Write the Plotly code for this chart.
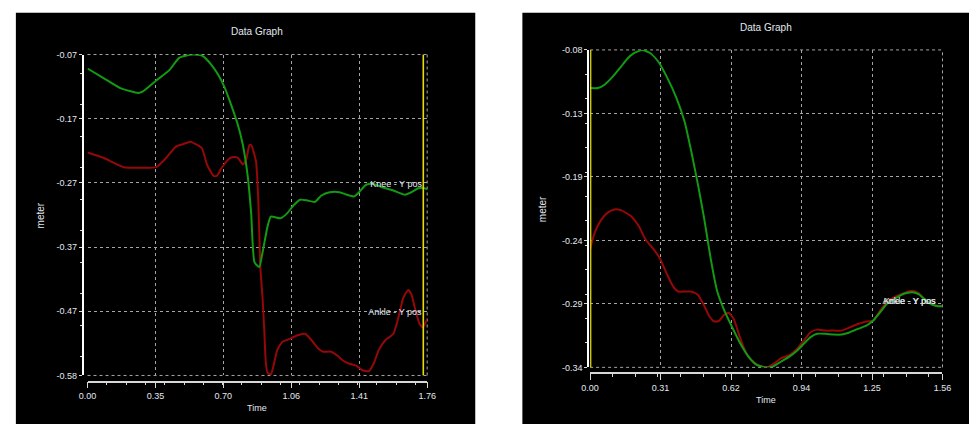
import plotly.graph_objects as go

# ---------------- data: left graph ----------------
left_knee_t = [0.000, 0.085, 0.170, 0.263, 0.288, 0.356, 0.424, 0.475, 0.543, 0.593, 0.644, 0.678, 0.712,
               0.746, 0.780, 0.805, 0.831, 0.848, 0.865, 0.890, 0.907, 0.933, 0.950, 1.000, 1.034, 1.068,
               1.102, 1.136, 1.178, 1.212, 1.255, 1.306, 1.340, 1.382, 1.407, 1.441, 1.475, 1.526, 1.585,
               1.645, 1.679, 1.713, 1.738, 1.760]
left_knee_y = [-0.0922, -0.1078, -0.1233, -0.1310, -0.1284, -0.1114, -0.0948, -0.0752, -0.0700, -0.0716,
               -0.0871, -0.1026, -0.1233, -0.1517, -0.1828, -0.2138, -0.2655, -0.3224, -0.4000, -0.4078,
               -0.3845, -0.3431, -0.3276, -0.3302, -0.3224, -0.3095, -0.3007, -0.3017, -0.3043, -0.2940,
               -0.2888, -0.2888, -0.2924, -0.2955, -0.2888, -0.2774, -0.2748, -0.2810, -0.2862, -0.2929,
               -0.2888, -0.2826, -0.2821, -0.2836]

left_ankle_t = [0.000, 0.085, 0.187, 0.271, 0.356, 0.407, 0.458, 0.492, 0.534, 0.568, 0.593, 0.619, 0.653,
                0.670, 0.695, 0.738, 0.763, 0.780, 0.805, 0.822, 0.839, 0.848, 0.873, 0.885, 0.895, 0.907,
                0.916, 0.924, 0.933, 0.950, 0.967, 0.983, 1.009, 1.051, 1.085, 1.128, 1.161, 1.195, 1.221,
                1.263, 1.297, 1.323, 1.357, 1.391, 1.424, 1.458, 1.484, 1.509, 1.543, 1.585, 1.611, 1.636,
                1.662, 1.679, 1.696, 1.721, 1.738, 1.760]
left_ankle_y = [-0.2257, -0.2345, -0.2490, -0.2500, -0.2490, -0.2345, -0.2164, -0.2128, -0.2086, -0.2138,
                -0.2190, -0.2448, -0.2629, -0.2629, -0.2500, -0.2345, -0.2329, -0.2345, -0.2448, -0.2371,
                -0.2138, -0.2138, -0.2397, -0.3017, -0.4052, -0.4569, -0.5086, -0.5603, -0.5759, -0.5784,
                -0.5603, -0.5397, -0.5267, -0.5216, -0.5164, -0.5138, -0.5241, -0.5371, -0.5422, -0.5422,
                -0.5490, -0.5562, -0.5614, -0.5645, -0.5717, -0.5733, -0.5603, -0.5397, -0.5241, -0.5138,
                -0.4879, -0.4569, -0.4440, -0.4517, -0.4724, -0.4983, -0.5034, -0.4905]

left_cursor_t = 1.74
left_x_range = [0.0, 1.76]
left_y_range = [-0.58, -0.07]
left_x_ticks = ["0.00", "0.35", "0.70", "1.06", "1.41", "1.76"]
left_y_ticks = ["-0.07", "-0.17", "-0.27", "-0.37", "-0.47", "-0.58"]
left_labels = ["Knee - Y pos", "Ankle - Y pos"]
left_label_t = [1.465, 1.455]
left_label_y = [-0.2764, -0.481]

# ---------------- data: right graph ----------------
right_knee_t = [0.000, 0.035, 0.064, 0.100, 0.136, 0.165, 0.194, 0.230, 0.267, 0.303, 0.339, 0.382, 0.419,
                0.448, 0.477, 0.506, 0.534, 0.563, 0.592, 0.629, 0.665, 0.701, 0.737, 0.774, 0.810, 0.846,
                0.882, 0.918, 0.947, 0.976, 1.005, 1.041, 1.078, 1.114, 1.150, 1.186, 1.223, 1.252, 1.288,
                1.317, 1.353, 1.389, 1.425, 1.454, 1.483, 1.512, 1.541, 1.560]
right_knee_y = [-0.1112, -0.1112, -0.1085, -0.1019, -0.0939, -0.0872, -0.0827, -0.0800, -0.0827, -0.0899,
                -0.1019, -0.1192, -0.1392, -0.1632, -0.1899, -0.2192, -0.2512, -0.2779, -0.2925, -0.3072,
                -0.3205, -0.3312, -0.3379, -0.3400, -0.3392, -0.3352, -0.3312, -0.3259, -0.3205, -0.3152,
                -0.3125, -0.3125, -0.3131, -0.3131, -0.3112, -0.3085, -0.3059, -0.3019, -0.2939, -0.2872,
                -0.2832, -0.2797, -0.2784, -0.2800, -0.2845, -0.2885, -0.2899, -0.2899]

right_ankle_t = [0.000, 0.020, 0.049, 0.078, 0.107, 0.136, 0.180, 0.216, 0.245, 0.281, 0.310, 0.339, 0.368,
                 0.390, 0.419, 0.448, 0.477, 0.506, 0.527, 0.549, 0.571, 0.592, 0.614, 0.636, 0.658, 0.679,
                 0.701, 0.730, 0.759, 0.788, 0.817, 0.846, 0.882, 0.918, 0.947, 0.976, 1.005, 1.041, 1.078,
                 1.114, 1.150, 1.186, 1.223, 1.252, 1.288, 1.317, 1.353, 1.389, 1.425, 1.454, 1.483, 1.512,
                 1.541, 1.560]
right_ankle_y = [-0.2432, -0.2299, -0.2192, -0.2133, -0.2107, -0.2112, -0.2160, -0.2245, -0.2352, -0.2432,
                 -0.2512, -0.2632, -0.2739, -0.2779, -0.2779, -0.2779, -0.2805, -0.2899, -0.2979, -0.3024,
                 -0.3019, -0.2971, -0.2952, -0.3005, -0.3125, -0.3232, -0.3312, -0.3365, -0.3392, -0.3397,
                 -0.3365, -0.3325, -0.3299, -0.3245, -0.3179, -0.3112, -0.3091, -0.3099, -0.3099, -0.3099,
                 -0.3072, -0.3045, -0.3024, -0.3019, -0.2925, -0.2859, -0.2819, -0.2792, -0.2773, -0.2792,
                 -0.2845, -0.2880, -0.2899, -0.2899]

right_cursor_t = 0.002
right_x_range = [0.0, 1.56]
right_y_range = [-0.34, -0.08]
right_x_ticks = ["0.00", "0.31", "0.62", "0.94", "1.25", "1.56"]
right_y_ticks = ["-0.08", "-0.13", "-0.19", "-0.24", "-0.29", "-0.34"]
right_labels = ["Knee - Y pos", "Ankle - Y pos"]
right_label_t = [1.300, 1.295]
right_label_y = [-0.2866, -0.2864]

# ---------------- styles ----------------
W, H = 978, 429
GREEN = "#129a12"
RED = "#960808"
YELLOW = "#e6de00"
GRID = "#a5a5a5"
GRID_DASH = "3px,3px"
TXT = "#e2e8f0"
FONT = "Liberation Sans, Arial, sans-serif"


def px_x(p):
    return p / W


def px_y(p):
    return 1 - p / H


def even_ticks(a, b, n):
    return [a + (b - a) * i / (n - 1) for i in range(n)]


fig = go.Figure()

panels = [
    dict(sfx="", knee=(left_knee_t, left_knee_y), ankle=(left_ankle_t, left_ankle_y),
         cursor=left_cursor_t, xr=left_x_range, yr=left_y_range, xt=left_x_ticks, yt=left_y_ticks,
         lab=(left_labels, left_label_t, left_label_y),
         dom_x=(80, 426), dom_y=(50.7, 379.3), xline=385.7, yline=75,
         bg=(7, 475), title=(253, 27), meter=(33, 215), time=(253, 413)),
    dict(sfx="2", knee=(right_knee_t, right_knee_y), ankle=(right_ankle_t, right_ankle_y),
         cursor=right_cursor_t, xr=right_x_range, yr=right_y_range, xt=right_x_ticks, yt=right_y_ticks,
         lab=(right_labels, right_label_t, right_label_y),
         dom_x=(592, 951), dom_y=(46, 371), xline=377, yline=590,
         bg=(523, 978), title=(771, 23), meter=(543, 209), time=(771, 404)),
]

shapes = []
annotations = []
for p in panels:
    xa = "x" + p["sfx"]
    ya = "y" + p["sfx"]
    fig.add_trace(go.Scatter(x=p["ankle"][0], y=p["ankle"][1], mode="lines", xaxis=xa, yaxis=ya,
                             line=dict(color=RED, width=2, shape="spline", smoothing=0.5),
                             showlegend=False, hoverinfo="skip"))
    fig.add_trace(go.Scatter(x=p["knee"][0], y=p["knee"][1], mode="lines", xaxis=xa, yaxis=ya,
                             line=dict(color=GREEN, width=2, shape="spline", smoothing=0.5),
                             showlegend=False, hoverinfo="skip"))
    fig.add_trace(go.Scatter(x=[p["cursor"], p["cursor"]], y=p["yr"], mode="lines", xaxis=xa, yaxis=ya,
                             line=dict(color=YELLOW, width=1.6), showlegend=False, hoverinfo="skip"))
    labs, lt, ly = p["lab"]
    fig.add_trace(go.Scatter(x=lt, y=ly, mode="text", text=labs, textposition="middle right",
                             textfont=dict(family=FONT, size=9, color=TXT), cliponaxis=True,
                             xaxis=xa, yaxis=ya, showlegend=False, hoverinfo="skip"))

    x0, x1 = p["dom_x"]
    yt0, yb0 = p["dom_y"]
    xkey = "xaxis" + p["sfx"]
    ykey = "yaxis" + p["sfx"]
    fig.update_layout(**{
        xkey: dict(domain=[px_x(x0), px_x(x1)], range=p["xr"], anchor="free", position=px_y(p["xline"]),
                   tickvals=even_ticks(p["xr"][0], p["xr"][1], 6), ticktext=p["xt"], ticks="outside",
                   ticklen=6, tickcolor="#d8d8d8", tickwidth=1,
                   minor=dict(ticks="outside", ticklen=3, tickcolor="#d8d8d8", nticks=5, showgrid=False),
                   showline=True, linecolor="#d8d8d8", linewidth=1.5,
                   showgrid=True, gridcolor=GRID, griddash=GRID_DASH, gridwidth=1, zeroline=False,
                   tickfont=dict(family=FONT, size=9, color=TXT), fixedrange=True),
        ykey: dict(domain=[px_y(yb0), px_y(yt0)], range=p["yr"], anchor="free", position=px_x(p["yline"]),
                   tickvals=even_ticks(p["yr"][1], p["yr"][0], 6), ticktext=p["yt"], ticks="outside",
                   ticklen=3, tickcolor="#d8d8d8", tickwidth=1,
                   minor=dict(ticks="outside", ticklen=2, tickcolor="#d8d8d8", nticks=5, showgrid=False),
                   showline=True, linecolor="#ffffff", linewidth=1.5,
                   showgrid=True, gridcolor=GRID, griddash=GRID_DASH, gridwidth=1, zeroline=False,
                   tickfont=dict(family=FONT, size=9, color=TXT), fixedrange=True),
    })
    bx0, bx1 = p["bg"]
    shapes.append(dict(type="rect", xref="paper", yref="paper", x0=px_x(bx0), x1=px_x(bx1),
                       y0=0, y1=px_y(8), fillcolor="black", line=dict(width=0), layer="below"))
    border = dict(color=GRID, width=1, dash=GRID_DASH)
    shapes.append(dict(type="line", xref="paper", yref="paper", x0=px_x(x0), x1=px_x(x1),
                       y0=px_y(yt0), y1=px_y(yt0), line=border, layer="below"))
    shapes.append(dict(type="line", xref="paper", yref="paper", x0=px_x(x1), x1=px_x(x1),
                       y0=px_y(yb0), y1=px_y(yt0), line=border, layer="below"))
    shapes.append(dict(type="line", xref="paper", yref="paper", x0=px_x(x0), x1=px_x(x1),
                       y0=px_y(yb0), y1=px_y(yb0), line=border, layer="below"))
    common = dict(xref="paper", yref="paper", showarrow=False, xanchor="center", yanchor="middle")
    tx, ty = p["title"]
    annotations.append(dict(text="Data Graph", x=px_x(tx), y=px_y(ty),
                            font=dict(family=FONT, size=10, color=TXT), **common))
    mx, my = p["meter"]
    annotations.append(dict(text="meter", x=px_x(mx), y=px_y(my), textangle=-90,
                            font=dict(family=FONT, size=10, color=TXT), **common))
    tmx, tmy = p["time"]
    annotations.append(dict(text="Time", x=px_x(tmx), y=px_y(tmy),
                            font=dict(family=FONT, size=9, color=TXT), **common))

fig.update_layout(width=W, height=H, margin=dict(l=0, r=0, t=0, b=0), paper_bgcolor="white",
                  plot_bgcolor="black", shapes=shapes, annotations=annotations, showlegend=False)

fig.write_html("out.html", config={"displayModeBar": False},
               post_script="document.body.style.margin='0';document.body.style.overflow='hidden';")
